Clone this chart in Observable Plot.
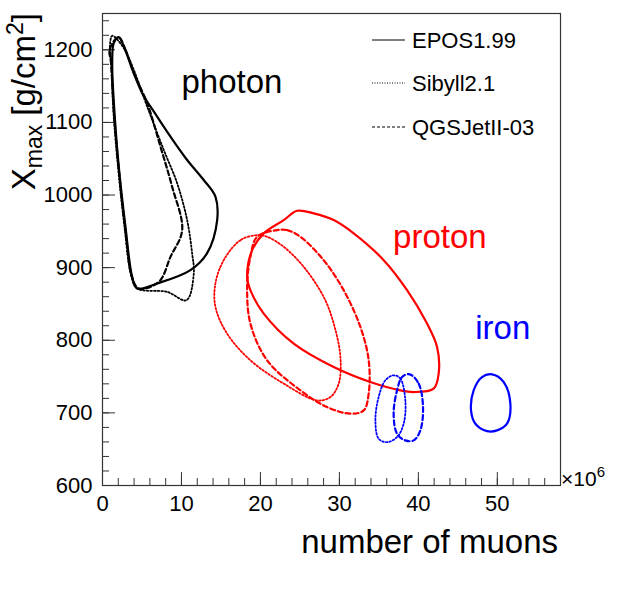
<!DOCTYPE html>
<html>
<head>
<meta charset="utf-8">
<script src="https://cdn.jsdelivr.net/npm/d3@7"></script>
<script src="https://cdn.jsdelivr.net/npm/@observablehq/plot@0.6"></script>
<style>
  html, body { margin: 0; padding: 0; background: #fff; }
  #chart { width: 623px; height: 589px; }
</style>
</head>
<body>
<div id="chart"></div>
<script>
// ---- data (muon number in units of 1e6, Xmax in g/cm^2) ----
const models = ["EPOS1.99", "Sibyll2.1", "QGSJetII-03"];
const primaries = ["photon", "proton", "iron"];
const primaryColors = ["#000000", "#ff0000", "#0000ff"];

const photonEPOS = [[2.06,1217.5],[2.70,1204.6],[3.96,1167.9],[5.03,1140.3],[6.92,1108],[8.61,1080.4],[10.72,1048.3],[12.82,1020.7],[14.30,997.7],[14.52,965.5],[13.25,920],[11.14,896.6],[6.92,878.2],[4.39,871.3],[3.76,887.3],[2.91,956.3],[2.06,1039],[1.52,1113],[1.23,1181.7],[1.43,1209.2]];
const photonSibyll = [[1.23,1219.3],[2.70,1202.3],[3.96,1172.4],[5.66,1121.8],[7.76,1062],[9.46,1016.1],[10.72,965.5],[11.35,919.6],[11.56,892],[10.63,855.2],[8.19,866.6],[4.39,871.3],[3.67,887.3],[2.78,956.3],[1.96,1039],[1.39,1113],[1.10,1182],[0.95,1206.9]];
const photonQGSJet = [[2.03,1217.2],[2.91,1200],[3.96,1167.9],[5.66,1126.5],[7.34,1066.6],[8.82,1011.4],[10.09,951.7],[8.61,914.9],[7.13,880.4],[4.59,871.3],[3.73,887.3],[2.85,956.3],[2.03,1039],[1.46,1113],[1.08,1182],[0.92,1201]];

const protonEPOS = [[24.65,978.3],[26.75,974.8],[29.28,965.5],[31.81,947.2],[35.61,910.3],[38.57,869],[41.10,823],[42.37,790.8],[42.57,754.1],[41.94,733.4],[39.41,728.7],[37.72,731],[33.92,742.5],[29.28,763.2],[24.22,795.4],[20.42,836.8],[18.73,869],[18.32,887.3],[18.95,924.1],[20.42,947.2],[22.95,965.5]];
const protonSibyll = [[19.58,944.8],[17.47,937.9],[15.35,910.3],[14.30,878.2],[14.30,845.9],[15.78,809.2],[18.73,772.4],[22.95,740.3],[27.18,717.2],[28.86,721.8],[29.91,740.3],[30.13,777],[29.28,823],[28.01,859.7],[25.48,901.1],[22.95,928.7],[20.85,942.5]];
const protonQGSJet = [[22.11,951.7],[23.38,951.7],[25.06,942.5],[28.01,910.3],[30.54,869],[32.66,818.3],[33.71,772.4],[33.71,726.5],[33.08,703.4],[31.39,698.9],[28.44,708],[25.06,731],[20.85,772.4],[18.73,823],[18.32,873.5],[18.73,914.9],[19.58,942.5]];

const ironEPOS = [[49.33,753.1],[50.80,742.5],[51.65,712.7],[51.23,685.1],[49.96,675.9],[48.70,674.9],[47.22,685.1],[46.67,703.4],[47.00,731],[48.06,749.4]];
const ironSibyll = [[36.87,751.7],[37.72,747.2],[38.35,717.2],[38.14,685.1],[37.30,666.6],[36.04,659.7],[34.97,664.4],[34.56,689.7],[34.97,721.8],[35.82,744.8]];
const ironQGSJet = [[38.90,753.1],[40.04,740.3],[40.59,708],[40.25,675.9],[39.41,662.1],[38.35,662.1],[37.30,671.3],[36.87,698.9],[37.30,731],[37.94,749.4]];

const labelX = [10.0, 36.8, 47.2];
const labelY = [1154.5, 942, 816.6];

const xMajorTicks = [0, 10, 20, 30, 40, 50];
const yMajorTicks = [600, 700, 800, 900, 1000, 1100, 1200];

// ---- build tables ----
const contours = {
  "EPOS1.99": [photonEPOS, protonEPOS, ironEPOS],
  "Sibyll2.1": [photonSibyll, protonSibyll, ironSibyll],
  "QGSJetII-03": [photonQGSJet, protonQGSJet, ironQGSJet]
};
function rowsFor(model) {
  const out = [];
  contours[model].forEach((pts, i) => {
    pts.forEach(([x, y]) => out.push({x, y, primary: primaries[i], model}));
  });
  return out;
}
const styles = {
  "EPOS1.99": {strokeWidth: 2.2, strokeDasharray: null},
  "Sibyll2.1": {strokeWidth: 1.8, strokeDasharray: "1.6,2"},
  "QGSJetII-03": {strokeWidth: 2.2, strokeDasharray: "5,3"}
};
const labels = primaries.map((p, i) => ({name: p, x: labelX[i], y: labelY[i]}));

const lineMarks = models.map(m => Plot.line(rowsFor(m), {
  x: "x", y: "y", z: "primary", stroke: "primary",
  curve: "catmull-rom-closed",
  strokeWidth: styles[m].strokeWidth,
  strokeDasharray: styles[m].strokeDasharray || undefined
}));

const chart = Plot.plot({
  width: 623,
  height: 589,
  marginLeft: 102,
  marginRight: 63,
  marginTop: 13,
  marginBottom: 104,
  style: {fontFamily: "'Liberation Sans', Arial, sans-serif", fontSize: "22px", background: "#fff", color: "#000"},
  x: {domain: [0, 58]},
  y: {domain: [600, 1250]},
  color: {domain: primaries, range: primaryColors},
  marks: [
    Plot.axisX({ticks: xMajorTicks, tickSize: -13, tickPadding: 23, tickFormat: d => String(d), label: null, stroke: "#333"}),
    Plot.axisX({ticks: d3.range(0, 57, 2), tickSize: -7, tickFormat: () => "", label: null, stroke: "#333"}),
    Plot.axisY({ticks: yMajorTicks, tickSize: -13, tickPadding: 23, tickFormat: d => String(d), label: null, stroke: "#333"}),
    Plot.axisY({ticks: d3.range(600, 1250, 20), tickSize: -7, tickFormat: () => "", label: null, stroke: "#333"}),
    Plot.frame({stroke: "#333", strokeWidth: 1.2}),
    ...lineMarks,
    Plot.text(labels, {x: "x", y: "y", text: "name", fill: "name", textAnchor: "start", lineAnchor: "middle", fontSize: 33})
  ]
});
document.getElementById("chart").appendChild(chart);

// ---- axis titles, multiplier and legend ----
const svg = d3.select(chart);
const font = "'Liberation Sans', Arial, sans-serif";

svg.append("text")
  .attr("x", 558).attr("y", 553)
  .attr("text-anchor", "end")
  .attr("font-family", font).attr("font-size", 33)
  .attr("fill", "#000")
  .text("number of muons");

const yt = svg.append("text")
  .attr("transform", "translate(35,13) rotate(-90)")
  .attr("text-anchor", "end")
  .attr("font-family", font).attr("font-size", 33)
  .attr("fill", "#000");
yt.append("tspan").text("X");
yt.append("tspan").attr("font-size", 23).attr("dy", 7).text("max");
yt.append("tspan").attr("dy", -7).text(" [g/cm");
yt.append("tspan").attr("font-size", 23).attr("dy", -12).text("2");
yt.append("tspan").attr("dy", 12).text("]");

const mult = svg.append("text")
  .attr("x", 561).attr("y", 486)
  .attr("text-anchor", "start")
  .attr("font-family", font).attr("font-size", 21)
  .attr("fill", "#000");
mult.append("tspan").text("×10");
mult.append("tspan").attr("font-size", 15).attr("dy", -9).text("6");

const legendY = [40, 83, 127];
models.forEach((m, i) => {
  svg.append("line")
    .attr("x1", 372).attr("x2", 405)
    .attr("y1", legendY[i]).attr("y2", legendY[i])
    .attr("stroke", "#000")
    .attr("stroke-width", 1)
    .attr("stroke-dasharray", i === 0 ? null : (i === 1 ? "1,1.5" : "3,2"));
  svg.append("text")
    .attr("x", 412).attr("y", legendY[i] + 8)
    .attr("text-anchor", "start")
    .attr("font-family", font).attr("font-size", 22)
    .attr("fill", "#000")
    .text(m);
});
</script>
</body>
</html>
